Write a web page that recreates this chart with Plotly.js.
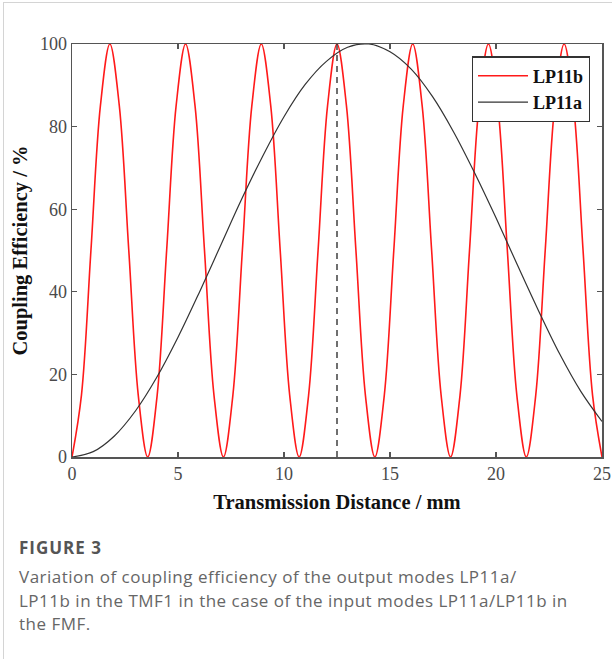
<!DOCTYPE html>
<html>
<head>
<meta charset="utf-8">
<script src="https://cdn.plot.ly/plotly-3.0.1.min.js"></script>
<style>
  html, body { margin: 0; padding: 0; background: #fff; }
  #wrap { position: relative; width: 612px; height: 659px; overflow: hidden; }
  #card { position: absolute; left: 3px; top: 2px; width: 620px; height: 700px; border-left: 1px solid #d4d4d4; border-top: 1px solid #d4d4d4; box-sizing: border-box; }
  #chart { position: absolute; left: 0; top: 0; width: 612px; height: 659px; }
  #figlabel { position: absolute; left: 19px; top: 536px; font-family: "Open Sans", Lato, sans-serif; font-weight: 700; font-size: 17px; color: #555; letter-spacing: 1px; }
  #caption { position: absolute; left: 19px; top: 565px; width: 592px; font-family: "Open Sans", Lato, sans-serif; font-size: 17px; line-height: 23.5px; color: #666; letter-spacing: 0.5px; white-space: nowrap; }
</style>
</head>
<body>
<div id="wrap">
  <div id="card"></div>
  <div id="chart"></div>
  <div id="figlabel">FIGURE 3</div>
  <div id="caption">Variation of coupling efficiency of the output modes LP11a/<br>LP11b in the TMF1 in the case of the input modes LP11a/LP11b in<br>the FMF.</div>
</div>
<script>
// LP11b (red) read at peaks, zeros and intermediate points
const lp11bX = [0, 0.446, 0.893, 1.339, 1.786, 2.232, 2.679, 3.125, 3.571, 4.018, 4.464, 4.911, 5.357, 5.804, 6.250, 6.696, 7.143, 7.589, 8.036, 8.482, 8.929, 9.375, 9.821, 10.268, 10.714, 11.161, 11.607, 12.054, 12.500, 12.946, 13.393, 13.839, 14.286, 14.732, 15.179, 15.625, 16.071, 16.518, 16.964, 17.411, 17.857, 18.304, 18.750, 19.196, 19.643, 20.089, 20.536, 20.982, 21.429, 21.875, 22.321, 22.768, 23.214, 23.661, 24.107, 24.554, 25.000];
const lp11bY = [0, 15, 50, 85, 100, 85, 50, 15, 0, 15, 50, 85, 100, 85, 50, 15, 0, 15, 50, 85, 100, 85, 50, 15, 0, 15, 50, 85, 100, 85, 50, 15, 0, 15, 50, 85, 100, 85, 50, 15, 0, 15, 50, 85, 100, 85, 50, 15, 0, 15, 50, 85, 100, 85, 50, 15, 0];
// LP11a (black)
const lp11aX = [0, 1, 2, 3, 4, 5, 6, 7, 8, 9, 10, 11, 12, 13, 14, 15, 16, 17, 18, 19, 20, 21, 22, 23, 24, 25];
const lp11aY = [0, 1.3, 5.1, 11.2, 19.3, 29.0, 39.8, 51.1, 62.4, 72.9, 82.4, 90.2, 95.8, 99.2, 100, 98.1, 93.9, 87.3, 78.7, 68.7, 57.9, 46.6, 35.5, 25.0, 15.9, 8.6];
// dashed marker line
const markerX = [12.5, 12.5];
const markerY = [0, 100];
const xTicks = [0, 5, 10, 15, 20, 25];
const yTicks = [0, 20, 40, 60, 80, 100];

const serif = 'Liberation Serif, Times New Roman, serif';

const traces = [
  { x: lp11bX, y: lp11bY, type: 'scatter', mode: 'lines', name: 'LP11b',
    line: { color: '#ff1a1a', width: 1.6, shape: 'spline', smoothing: 1 } },
  { x: lp11aX, y: lp11aY, type: 'scatter', mode: 'lines', name: 'LP11a',
    line: { color: '#333333', width: 1.2, shape: 'spline', smoothing: 1 } },
  { x: markerX, y: markerY, type: 'scatter', mode: 'lines', showlegend: false, hoverinfo: 'skip',
    line: { color: '#333333', width: 1.4, dash: '6px,5px' } }
];

const axisCommon = {
  showgrid: false, zeroline: false, showline: true, linecolor: '#555', linewidth: 1.5,
  mirror: 'ticks', ticks: 'inside', ticklen: 5, tickwidth: 1.2, tickcolor: '#555',
  tickfont: { family: serif, size: 18, color: '#4a4a4a' }
};

const layout = {
  width: 612, height: 659,
  margin: { l: 72, r: 10, t: 44, b: 202 },
  paper_bgcolor: 'rgba(0,0,0,0)', plot_bgcolor: 'rgba(0,0,0,0)',
  showlegend: true,
  legend: {
    x: 0.977, y: 0.97, xanchor: 'right', yanchor: 'top',
    bgcolor: '#fff', bordercolor: '#333', borderwidth: 1.2,
    font: { family: serif, size: 18, color: '#111', weight: 'bold' },
    itemwidth: 50, tracegroupgap: 0
  },
  xaxis: Object.assign({}, axisCommon, {
    range: [0, 25], tickvals: xTicks, ticktext: xTicks.map(String),
    title: { text: 'Transmission Distance / mm', standoff: 11,
      font: { family: serif, size: 20.5, color: '#111', weight: 'bold' } }
  }),
  yaxis: Object.assign({}, axisCommon, {
    range: [0, 100], tickvals: yTicks, ticktext: yTicks.map(String),
    title: { text: 'Coupling Efficiency / %', standoff: 6,
      font: { family: serif, size: 20.5, color: '#111', weight: 'bold' } }
  })
};

Plotly.newPlot('chart', traces, layout, { displayModeBar: false, staticPlot: true });
</script>
</body>
</html>
